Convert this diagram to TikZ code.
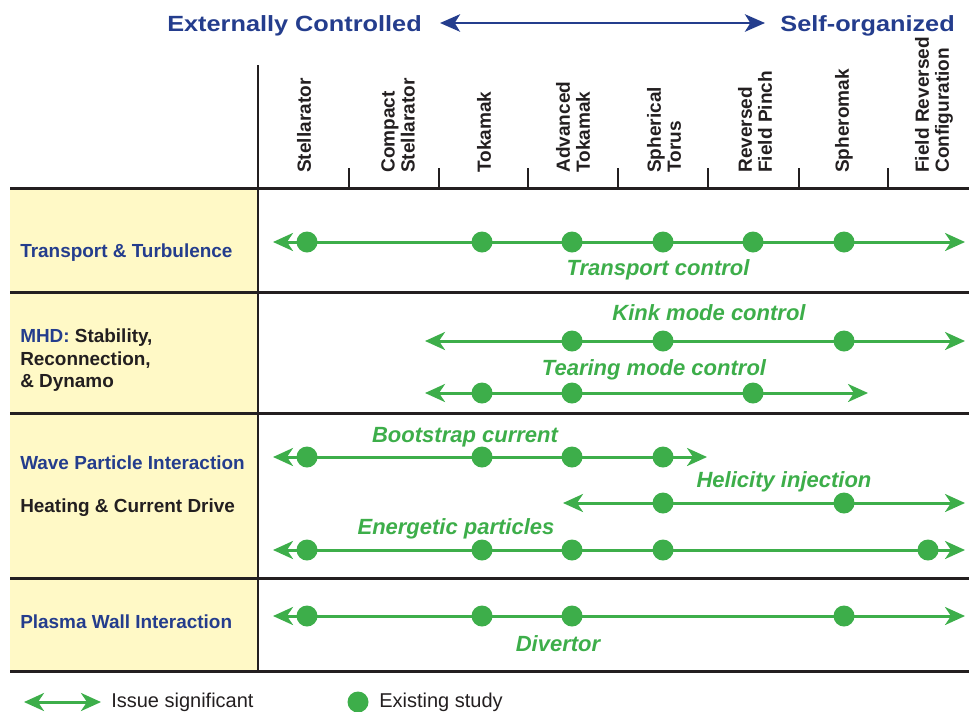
\documentclass[tikz,border=0pt]{standalone}
\usepackage{fontspec}
\setmainfont{Liberation Sans}
\newfontfamily\titlefont{Liberation Sans}[FakeStretch=1.15]
\usetikzlibrary{arrows.meta}
\definecolor{navy}{HTML}{243D8D}
\definecolor{lgreen}{HTML}{3DAE4A}
\definecolor{paleyellow}{HTML}{FFF9C6}
\definecolor{ink}{HTML}{231F20}
\begin{document}
\begin{tikzpicture}[x=0.75pt,y=-0.75pt,
  rule/.style={draw=ink,line width=2.25pt},
  vrule/.style={draw=ink,line width=1.6pt},
  tick/.style={draw=ink,line width=1.6pt},
  titletxt/.style={inner sep=0pt,text=navy,font=\titlefont\fontsize{16.5}{18}\selectfont\bfseries},
  navyarrow/.style={draw=navy,line width=2.2pt,{Stealth[length=15pt,width=13pt,inset=4pt]}-{Stealth[length=15pt,width=13pt,inset=4pt]}},
  hdr/.style={rotate=90,anchor=west,align=left,inner sep=0pt,text=ink,font=\fontsize{14.3}{15}\selectfont\bfseries},
  rowlbl/.style={anchor=base west,inner sep=0pt,text=navy,font=\fontsize{14.2}{16}\selectfont\bfseries},
  rowlblk/.style={rowlbl,text=ink},
  garrow/.style={draw=lgreen,line width=2.25pt,{Stealth[length=15pt,width=13.5pt,inset=4.5pt]}-{Stealth[length=15pt,width=13.5pt,inset=4.5pt]}},
  dot/.style={circle,fill=lgreen,inner sep=0pt,minimum size=15.75pt},
  glbl/.style={anchor=base,inner sep=0pt,text=lgreen,font=\fontsize{16.5}{18}\selectfont\bfseries\itshape},
  legtxt/.style={anchor=base west,inner sep=0pt,text=ink,font=\fontsize{15}{16}\selectfont}
]
\useasboundingbox (0,0) rectangle (969,711);
% yellow label column
\fill[paleyellow] (10,188) rectangle (258,671);
% table rules
\draw[rule] (10,188) -- (969,188);
\draw[rule] (10,292) -- (969,292);
\draw[rule] (10,413) -- (969,413);
\draw[rule] (10,578) -- (969,578);
\draw[rule] (10,671) -- (969,671);
\draw[vrule] (258,65) -- (258,671);
\foreach \x in {349,439,528,618,708,799,888}{\draw[tick] (\x,168) -- (\x,188);}
% title
\node[titletxt,anchor=base west] (tleft) at (167,31) {Externally Controlled};
\node[titletxt,anchor=base east] (tright) at (955,31) {Self-organized};
\coordinate (ta) at (440,23);
\coordinate (tb) at (765,23);
\draw[navyarrow] (ta) -- (tb);
% column headers
\node[hdr] (hStell) at (304,173) {Stellarator};
\node[hdr] (hComp) at (398,173) {Compact\\Stellarator};
\node[hdr] (hTok) at (484,173) {Tokamak};
\node[hdr] (hAdv) at (573,173) {Advanced\\Tokamak};
\node[hdr] (hSph) at (664,173) {Spherical\\Torus};
\node[hdr] (hRFP) at (755,173) {Reversed\\Field Pinch};
\node[hdr] (hSpm) at (844,173) {Spheromak};
\node[hdr] (hFRC) at (934,173) {Field Reversed\\Configuration};
% row labels
\node[rowlbl] (lTT) at (20,257) {Transport \& Turbulence};
\node[rowlblk] (lMHD1) at (20,342) {\textcolor{navy}{MHD:} Stability,};
\node[rowlblk] (lMHD2) at (20,365) {Reconnection,};
\node[rowlblk] (lMHD3) at (20,387) {\& Dynamo};
\node[rowlbl] (lWPI) at (20,469) {Wave Particle Interaction};
\node[rowlblk] (lHCD) at (20,512) {Heating \& Current Drive};
\node[rowlbl] (lPWI) at (20,628) {Plasma Wall Interaction};
% Transport control
\coordinate (trL) at (273,242); \coordinate (trR) at (965,242);
\draw[garrow] (trL) -- (trR);
\foreach \x [count=\i] in {307,482,572,663,753,844}{\node[dot] (tr\i) at (\x,242) {};}
\node[glbl] (trLbl) at (658,275) {Transport control};
% Kink mode control
\coordinate (kkL) at (425,341); \coordinate (kkR) at (965,341);
\draw[garrow] (kkL) -- (kkR);
\foreach \x [count=\i] in {572,663,844}{\node[dot] (kk\i) at (\x,341) {};}
\node[glbl] (kkLbl) at (709,320) {Kink mode control};
% Tearing mode control
\coordinate (tmL) at (425,393); \coordinate (tmR) at (868,393);
\draw[garrow] (tmL) -- (tmR);
\foreach \x [count=\i] in {482,572,753}{\node[dot] (tm\i) at (\x,393) {};}
\node[glbl] (tmLbl) at (654,375) {Tearing mode control};
% Bootstrap current
\coordinate (bsL) at (273,457); \coordinate (bsR) at (707,457);
\draw[garrow] (bsL) -- (bsR);
\foreach \x [count=\i] in {307,482,572,663}{\node[dot] (bs\i) at (\x,457) {};}
\node[glbl] (bsLbl) at (465,442) {Bootstrap current};
% Helicity injection
\coordinate (hiL) at (563,503); \coordinate (hiR) at (965,503);
\draw[garrow] (hiL) -- (hiR);
\foreach \x [count=\i] in {663,844}{\node[dot] (hi\i) at (\x,503) {};}
\node[glbl] (hiLbl) at (784,487) {Helicity injection};
% Energetic particles
\coordinate (epL) at (273,550); \coordinate (epR) at (965,550);
\draw[garrow] (epL) -- (epR);
\foreach \x [count=\i] in {307,482,572,663,928}{\node[dot] (ep\i) at (\x,550) {};}
\node[glbl] (epLbl) at (456,534) {Energetic particles};
% Divertor
\coordinate (dvL) at (273,616); \coordinate (dvR) at (965,616);
\draw[garrow] (dvL) -- (dvR);
\foreach \x [count=\i] in {307,482,572,844}{\node[dot] (dv\i) at (\x,616) {};}
\node[glbl] (dvLbl) at (558,651) {Divertor};
% legend
\coordinate (lgA) at (24,702); \coordinate (lgB) at (101,702);
\draw[garrow] (lgA) -- (lgB);
\node[legtxt] (lgT1) at (111,707) {Issue significant};
\node[dot] (lgDot) at (358,702) {};
\node[legtxt] (lgT2) at (379,707) {Existing study};
\end{tikzpicture}
\end{document}
